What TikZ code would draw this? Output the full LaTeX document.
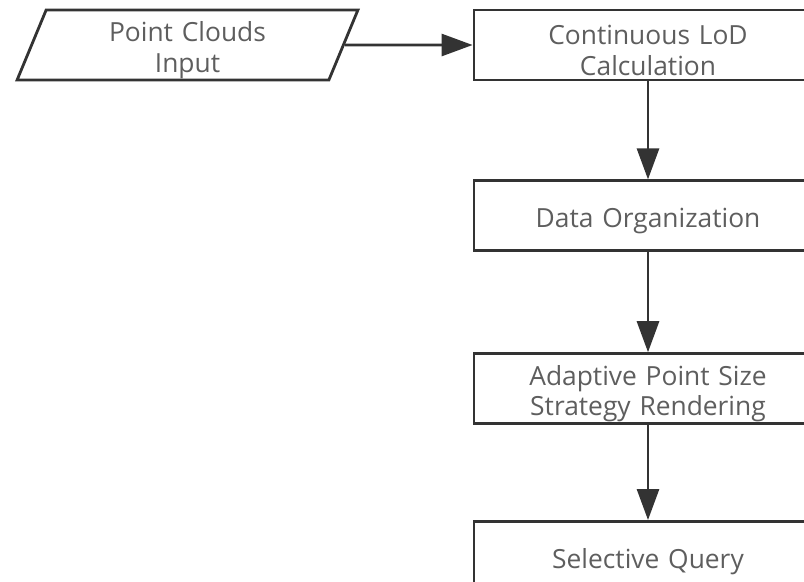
\documentclass[tikz,border=0pt]{standalone}
\usepackage{fontspec}
\setmainfont{Open Sans}
\usepackage{xcolor}
\usetikzlibrary{shapes.geometric, arrows.meta, positioning}

\definecolor{linegray}{HTML}{333333}
\definecolor{textgray}{HTML}{5E5E5E}

\begin{document}
\begin{tikzpicture}[
        node distance=1.96cm and 1cm,
        box/.style={rectangle, draw=linegray, line width=1.6pt, minimum height=1.4cm, minimum width=6.96cm, inner ysep=0pt, text width=6.4cm, align=center, text=textgray, font=\fontsize{15}{17.5}\selectfont, execute at begin node={\rule{0pt}{17pt}}},
        inbox/.style={trapezium, trapezium left angle=72, trapezium right angle=108, trapezium stretches=true, draw=linegray, line width=1.6pt, minimum height=1.4cm, minimum width=6.82cm, inner ysep=0pt, text width=4cm, align=center, text=textgray, font=\fontsize{15}{17.5}\selectfont, execute at begin node={\rule{0pt}{17pt}}},
        arrow/.style={-{Triangle[length=0.62cm, width=0.44cm]}, line width=1.6pt, draw=linegray}
    ]
        \useasboundingbox (0,0) rectangle (16.08,-11.62);
        \clip (0,0) rectangle (16.08,-11.62);

        % Nodes
        \node[inbox] (input) at (3.75,-0.9) {Point Clouds\\Input};
        \node[box] (lod) at (12.96,-0.9) {Continuous LoD\\Calculation};
        \node[box, below=of lod] (organization) {Data Organization};
        \node[box, below=2cm of organization] (rendering) {Adaptive Point Size\\Strategy Rendering};
        \node[box, below=1.9cm of rendering] (query) {Selective Query};

        % Arrows
        \draw[arrow] (input) -- (lod);
        \draw[arrow] (lod) -- (organization);
        \draw[arrow] (organization) -- (rendering);
        \draw[arrow] (rendering) -- (query);
    \end{tikzpicture}
\end{document}
